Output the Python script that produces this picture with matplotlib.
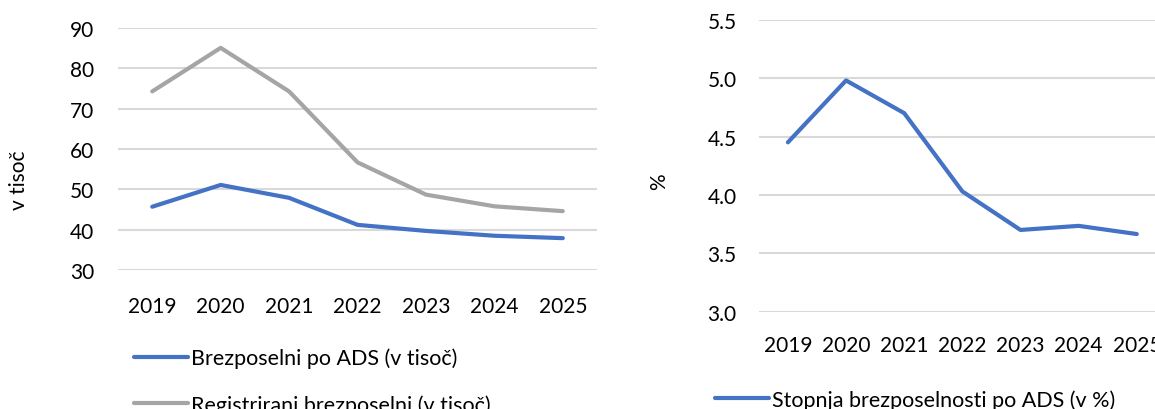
import matplotlib
matplotlib.use("Agg")
import matplotlib.pyplot as plt

plt.rcParams["font.family"] = ["Lato", "DejaVu Sans"]

# data
years = ["2019", "2020", "2021", "2022", "2023", "2024", "2025"]
ads_thousand = [45.7, 51.1, 47.9, 41.2, 39.7, 38.5, 37.9]
registered_thousand = [74.3, 85.1, 74.3, 56.7, 48.7, 45.8, 44.6]
ads_rate = [4.45, 4.98, 4.70, 4.03, 3.70, 3.735, 3.665]

left_ticks = [30, 40, 50, 60, 70, 80, 90]
right_ticks = [3.0, 3.5, 4.0, 4.5, 5.0, 5.5]

BLUE = "#4472C4"
GRAY = "#A5A5A5"
GRID = "#D9D9D9"
TXT = "#000000"
FS = 15
LFS = 15.5

fig = plt.figure(figsize=(11.55, 4.10), dpi=100)
ax1 = fig.add_axes([0.1022, 0.339, 0.4147, 0.590])
ax2 = fig.add_axes([0.657, 0.2373, 0.3524, 0.7122])


def style(ax, ticks, fmt, xpad, ypad):
    for s in ax.spines.values():
        s.set_visible(False)
    ax.set_xlim(-0.5, len(years) - 0.5)
    ax.set_ylim(ticks[0], ticks[-1])
    ax.set_yticks(ticks)
    ax.set_yticklabels([fmt.format(t) for t in ticks], fontsize=FS, color=TXT)
    ax.set_xticks(range(len(years)))
    ax.set_xticklabels(years, fontsize=FS, color=TXT)
    ax.tick_params(length=0)
    ax.tick_params(axis="y", pad=ypad)
    ax.tick_params(axis="x", pad=xpad)
    ax.grid(axis="y", color=GRID, linewidth=1.5)
    ax.set_axisbelow(True)


style(ax1, left_ticks, "{:.0f}", 19, 17)
style(ax2, right_ticks, "{:.1f}", 17, 16)

x = range(len(years))
l1, = ax1.plot(x, ads_thousand, color=BLUE, linewidth=3, solid_capstyle="round",
               label="Brezposelni po ADS (v tisoč)")
l2, = ax1.plot(x, registered_thousand, color=GRAY, linewidth=3, solid_capstyle="round",
               label="Registrirani brezposelni (v tisoč)")
l3, = ax2.plot(x, ads_rate, color=BLUE, linewidth=3, solid_capstyle="round",
               label="Stopnja brezposelnosti po ADS (v %)")

ax1.set_ylabel("v tisoč", fontsize=FS)
ax1.yaxis.set_label_coords(-0.186, 0.376)
ax2.set_ylabel("%", fontsize=FS)
ax2.yaxis.set_label_coords(-0.221, 0.448)

fig.legend(handles=[l1, l2], loc="upper left", bbox_to_anchor=(0.116, 0.150),
           frameon=False, fontsize=LFS, handlelength=2.5, handletextpad=0.15,
           labelspacing=1.2, borderpad=0, borderaxespad=0)
fig.legend(handles=[l3], loc="upper left", bbox_to_anchor=(0.619, 0.048),
           frameon=False, fontsize=LFS, handlelength=2.5, handletextpad=0.15,
           borderpad=0, borderaxespad=0)

fig.savefig("out.png", dpi=100)
